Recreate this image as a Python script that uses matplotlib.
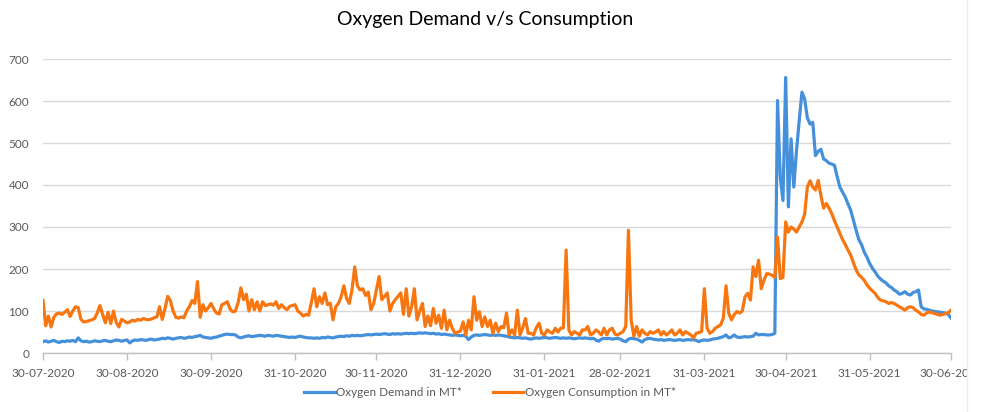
import matplotlib
matplotlib.use("Agg")
import matplotlib.pyplot as plt
import pandas as pd
from matplotlib.lines import Line2D
from matplotlib.transforms import Bbox, TransformedBbox

start_date = "2020-07-30"
end_date = "2021-06-30"

demand = [
    27, 29, 26, 28, 30, 27, 25, 28, 27, 29,
    28, 30, 27, 36, 29, 27, 28, 26, 27, 29,
    28, 27, 29, 30, 28, 27, 29, 31, 30, 28,
    30, 31, 24, 29, 31, 30, 32, 31, 30, 32,
    33, 31, 32, 33, 35, 34, 36, 35, 33, 35,
    36, 37, 35, 36, 38, 37, 39, 40, 42, 38,
    37, 36, 35, 37, 38, 40, 42, 44, 45, 44,
    44, 43, 38, 36, 38, 40, 41, 39, 40, 41,
    42, 41, 40, 42, 41, 40, 42, 41, 40, 39,
    38, 37, 38, 37, 39, 40, 38, 37, 36, 36,
    35, 36, 35, 37, 36, 38, 37, 36, 38, 39,
    40, 39, 41, 40, 42, 41, 42, 41, 42, 43,
    44, 43, 44, 45, 44, 45, 46, 45, 44, 46,
    45, 46, 45, 46, 47, 46, 47, 46, 47, 48,
    47, 48, 47, 46, 47, 45, 46, 44, 45, 44,
    43, 42, 43, 42, 41, 42, 40, 32, 38, 42,
    43, 42, 43, 44, 43, 42, 43, 42, 43, 42,
    41, 40, 38, 37, 36, 37, 36, 35, 36, 34,
    33, 35, 36, 35, 36, 37, 36, 35, 36, 37,
    36, 35, 36, 35, 36, 35, 34, 35, 36, 35,
    36, 35, 34, 35, 31, 28, 33, 35, 34, 35,
    33, 34, 35, 33, 29, 27, 33, 35, 34, 33,
    30, 26, 32, 34, 35, 33, 32, 31, 32, 30,
    31, 32, 31, 30, 31, 32, 30, 31, 32, 31,
    32, 30, 27, 30, 31, 30, 31, 33, 34, 35,
    37, 39, 43, 36, 38, 43, 38, 37, 38, 39,
    38, 39, 40, 47, 43, 44, 44, 43, 43, 44,
    47, 601, 420, 363, 656, 348, 510, 395, 482, 553,
    621, 605, 560, 545, 549, 470, 480, 485, 462, 458,
    452, 450, 447, 420, 395, 383, 371, 355, 340, 316,
    292, 270, 258, 240, 228, 213, 202, 193, 183, 176,
    171, 167, 160, 156, 150, 146, 140, 142, 146, 140,
    138, 144, 146, 150, 110, 105, 104, 102, 100, 99,
    98, 97, 96, 95, 92, 83,
]

consumption = [
    125, 65, 88, 62, 85, 93, 95, 92, 97, 103,
    87, 100, 110, 108, 80, 74, 75, 77, 79, 82,
    95, 113, 92, 72, 97, 70, 100, 73, 62, 80,
    76, 72, 74, 78, 76, 80, 78, 82, 80, 79,
    81, 84, 86, 110, 80, 105, 135, 125, 100, 85,
    83, 86, 84, 100, 110, 125, 118, 170, 85, 115,
    100, 108, 118, 105, 95, 93, 115, 118, 122, 105,
    98, 100, 120, 155, 127, 140, 100, 127, 103, 122,
    100, 122, 113, 115, 117, 114, 122, 106, 115, 108,
    103, 111, 113, 115, 100, 95, 88, 92, 90, 120,
    153, 110, 134, 118, 143, 115, 118, 79, 110, 118,
    134, 160, 130, 118, 150, 205, 160, 150, 153, 137,
    145, 103, 118, 150, 182, 127, 135, 143, 100, 118,
    127, 135, 143, 92, 153, 88, 110, 153, 79, 100,
    118, 63, 88, 65, 106, 71, 90, 59, 102, 55,
    78, 59, 47, 50, 52, 74, 43, 78, 55, 134,
    78, 98, 63, 86, 63, 78, 47, 71, 51, 63,
    60, 95, 43, 55, 43, 102, 43, 60, 82, 47,
    47, 43, 60, 71, 47, 43, 55, 50, 47, 59,
    50, 59, 60, 245, 55, 43, 51, 47, 43, 55,
    55, 63, 43, 47, 55, 50, 43, 59, 43, 55,
    59, 45, 43, 47, 51, 63, 292, 78, 40, 63,
    40, 55, 47, 43, 51, 47, 50, 55, 43, 51,
    43, 48, 55, 43, 47, 55, 43, 51, 47, 43,
    36, 47, 49, 51, 153, 60, 47, 51, 59, 63,
    67, 83, 160, 95, 79, 91, 99, 95, 100, 134,
    142, 126, 205, 182, 221, 153, 173, 189, 188, 185,
    180, 276, 177, 180, 312, 288, 300, 295, 288, 300,
    312, 330, 395, 410, 395, 388, 411, 375, 345, 356,
    345, 332, 315, 300, 285, 270, 258, 245, 233, 215,
    198, 186, 180, 173, 162, 154, 148, 142, 132, 126,
    124, 122, 118, 120, 118, 114, 110, 106, 102, 108,
    110, 108, 102, 98, 92, 90, 95, 98, 96, 94,
    92, 90, 92, 94, 96, 102,
]

tick_dates = ["2020-07-30", "2020-08-30", "2020-09-30", "2020-10-31",
              "2020-11-30", "2020-12-31", "2021-01-31", "2021-02-28",
              "2021-03-31", "2021-04-30", "2021-05-31", "2021-06-30"]
y_ticks = [0, 100, 200, 300, 400, 500, 600, 700]

title = "Oxygen Demand v/s Consumption"
label_demand = "Oxygen Demand in MT*"
label_consumption = "Oxygen Consumption in MT*"

plt.rcParams['font.family'] = ['Lato', 'DejaVu Sans']

dates = pd.date_range(start_date, end_date, freq="D")
df = pd.DataFrame({"date": dates, "demand": demand, "consumption": consumption})

W, H = 984, 412
fig = plt.figure(figsize=(W / 100, H / 100), dpi=100)
left, right, top, bottom = 43, 951, 59, 353
ax = fig.add_axes([left / W, 1 - bottom / H, (right - left) / W, (bottom - top) / H])

blue = "#4590DB"
orange = "#F7760F"
ax.plot(df["date"], df["demand"], color=blue, lw=2.3, solid_joinstyle="round", zorder=3)
ax.plot(df["date"], df["consumption"], color=orange, lw=2.3, solid_joinstyle="round", zorder=4)

ax.set_xlim(dates[0], dates[-1])
ax.set_ylim(0, 700)
ax.set_yticks(y_ticks)
ax.set_yticklabels([str(v) for v in y_ticks])
td = pd.to_datetime(tick_dates)
ax.set_xticks(td)
ax.set_xticklabels([d.strftime("%d-%m-%Y") for d in td])

ax.grid(axis="y", color="#D9D9D9", lw=1.0)
ax.set_axisbelow(True)
for s in ["top", "right", "left"]:
    ax.spines[s].set_visible(False)
ax.spines["bottom"].set_color("#BFBFBF")
ax.spines["bottom"].set_linewidth(1.0)
ax.spines["bottom"].set_zorder(2)

ax.tick_params(axis="y", length=0, pad=10, labelsize=8.5, labelcolor="#595959")
ax.tick_params(axis="x", length=5, width=1, color="#BFBFBF", pad=6,
               labelsize=8.5, labelcolor="#595959")

# chart area ends at x=967: labels beyond it are cut off
clip = TransformedBbox(Bbox([[0, 0], [967 / W, 1]]), fig.transFigure)
for lab in ax.get_xticklabels():
    lab.set_clip_on(True)
    lab.set_clip_box(clip)

fig.text(485 / W, 1 - 20 / H, title, ha="center", va="center", fontsize=14, color="#000000")

handles = [Line2D([0], [0], color=blue, lw=2.3), Line2D([0], [0], color=orange, lw=2.3)]
fig.legend(handles, [label_demand, label_consumption], loc="center",
           bbox_to_anchor=(490 / W, 1 - 393 / H), ncol=2, frameon=False,
           fontsize=8.5, handlelength=2.6, handletextpad=0.15, columnspacing=2.6,
           labelcolor="#595959")

fig.add_artist(Line2D([967 / W, 967 / W], [0, 1], color="#EDEDED", lw=1))

fig.savefig("out.png", dpi=100, facecolor="white")
